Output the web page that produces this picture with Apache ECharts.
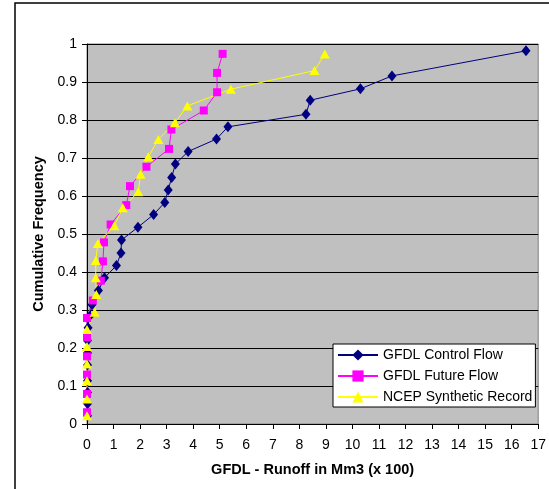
<!DOCTYPE html>
<html>
<head>
<meta charset="utf-8">
<script src="https://cdn.jsdelivr.net/npm/echarts@6/dist/echarts.min.js"></script>
<style>
html, body { margin: 0; padding: 0; background: #fff; }
#chart { width: 549px; height: 489px; }
</style>
</head>
<body>
<div id="chart"></div>
<script>
var seriesNames = ['GFDL Control Flow', 'GFDL Future Flow', 'NCEP Synthetic Record'];

var controlX = [0.02, 0.02, 0.02, 0.02, 0.02, 0.02, 0.02, 0.04, 0.09, 0.19, 0.43, 0.66, 1.11, 1.28, 1.30,
    1.92, 2.51, 2.93, 3.06, 3.19, 3.33, 3.81, 4.88, 5.31, 8.25, 8.41, 10.30, 11.49, 16.54];
var controlY = [0.022, 0.053, 0.083, 0.114, 0.155, 0.187, 0.22, 0.253, 0.283, 0.314, 0.351, 0.385, 0.417, 0.45, 0.484,
    0.518, 0.551, 0.583, 0.616, 0.649, 0.684, 0.717, 0.75, 0.782, 0.815, 0.852, 0.882, 0.916, 0.982];

var futureX = [0, 0, 0, 0, 0, 0, 0.22, 0.52, 0.60, 0.64, 0.89, 1.48, 1.62, 2.24, 3.09, 3.18, 4.40, 4.90, 4.90, 5.11];
var futureY = [0.031, 0.079, 0.13, 0.178, 0.228, 0.279, 0.325, 0.377, 0.428, 0.478, 0.525, 0.576, 0.626, 0.677,
    0.724, 0.775, 0.825, 0.873, 0.924, 0.974];

var ncepX = [0, 0, 0, 0, 0, 0, 0.29, 0.35, 0.33, 0.33, 0.41, 1.03, 1.35, 1.93, 2.02, 2.31, 2.69, 3.31, 3.78, 5.42, 8.57, 8.96];
var ncepY = [0.022, 0.066, 0.114, 0.158, 0.204, 0.249, 0.294, 0.341, 0.385, 0.43, 0.475, 0.522, 0.569, 0.611,
    0.657, 0.703, 0.749, 0.793, 0.837, 0.881, 0.93, 0.974];

function pairs(xs, ys) {
    var out = [];
    for (var i = 0; i < xs.length; i++) {
        out.push([xs[i], ys[i]]);
    }
    return out;
}

var font = 'Liberation Sans, Arial, sans-serif';

var option = {
    animation: false,
    backgroundColor: '#fff',
    textStyle: { fontFamily: font },
    graphic: [{
        type: 'rect',
        shape: { x: 15, y: 3, width: 600, height: 600 },
        style: { fill: 'none', stroke: '#000', lineWidth: 1.5 },
        silent: true
    }],
    grid: {
        left: 87,
        right: 7,
        top: 44,
        bottom: 65,
        show: true,
        backgroundColor: '#C0C0C0',
        borderColor: '#808080',
        borderWidth: 1
    },
    legend: {
        orient: 'vertical',
        left: 333,
        top: 344,
        backgroundColor: '#fff',
        borderColor: '#000',
        borderWidth: 1,
        borderRadius: 0,
        padding: [4, 3, 3, 4],
        itemWidth: 40,
        itemHeight: 14,
        itemGap: 7,
        textStyle: { fontFamily: font, fontSize: 14, color: '#000' },
        data: seriesNames
    },
    xAxis: {
        type: 'value',
        min: 0,
        max: 17,
        interval: 1,
        name: 'GFDL - Runoff in Mm3 (x 100)',
        nameLocation: 'middle',
        nameGap: 38,
        nameTextStyle: { fontWeight: 'bold', fontSize: 14.5, color: '#000', fontFamily: font },
        axisLine: { lineStyle: { color: '#000', width: 1 } },
        axisTick: { show: true, length: 5, lineStyle: { color: '#000' } },
        axisLabel: { color: '#000', fontSize: 14, margin: 14, fontFamily: font },
        splitLine: { show: false }
    },
    yAxis: {
        type: 'value',
        min: 0,
        max: 1,
        interval: 0.1,
        name: 'Cumulative Frequency',
        nameLocation: 'middle',
        nameGap: 37,
        nameTextStyle: { fontWeight: 'bold', fontSize: 14.5, color: '#000', fontFamily: font },
        axisLine: { show: true, lineStyle: { color: '#000', width: 1 } },
        axisTick: { show: true, length: 5, lineStyle: { color: '#000' } },
        axisLabel: { color: '#000', fontSize: 14, margin: 10, fontFamily: font },
        splitLine: { show: true, lineStyle: { color: '#000', width: 1 } }
    },
    series: [
        {
            name: seriesNames[0],
            type: 'line',
            data: pairs(controlX, controlY),
            symbol: 'diamond',
            symbolSize: [9, 11],
            itemStyle: { color: '#000080' },
            lineStyle: { color: '#000080', width: 1 }
        },
        {
            name: seriesNames[1],
            type: 'line',
            data: pairs(futureX, futureY),
            symbol: 'rect',
            symbolSize: 8,
            itemStyle: { color: '#FF00FF' },
            lineStyle: { color: '#FF00FF', width: 1 }
        },
        {
            name: seriesNames[2],
            type: 'line',
            data: pairs(ncepX, ncepY),
            symbol: 'triangle',
            symbolSize: [10, 9],
            itemStyle: { color: '#FFFF00' },
            lineStyle: { color: '#FFFF00', width: 1 }
        }
    ]
};

var myChart = echarts.init(document.getElementById('chart'));
myChart.setOption(option);
</script>
</body>
</html>
